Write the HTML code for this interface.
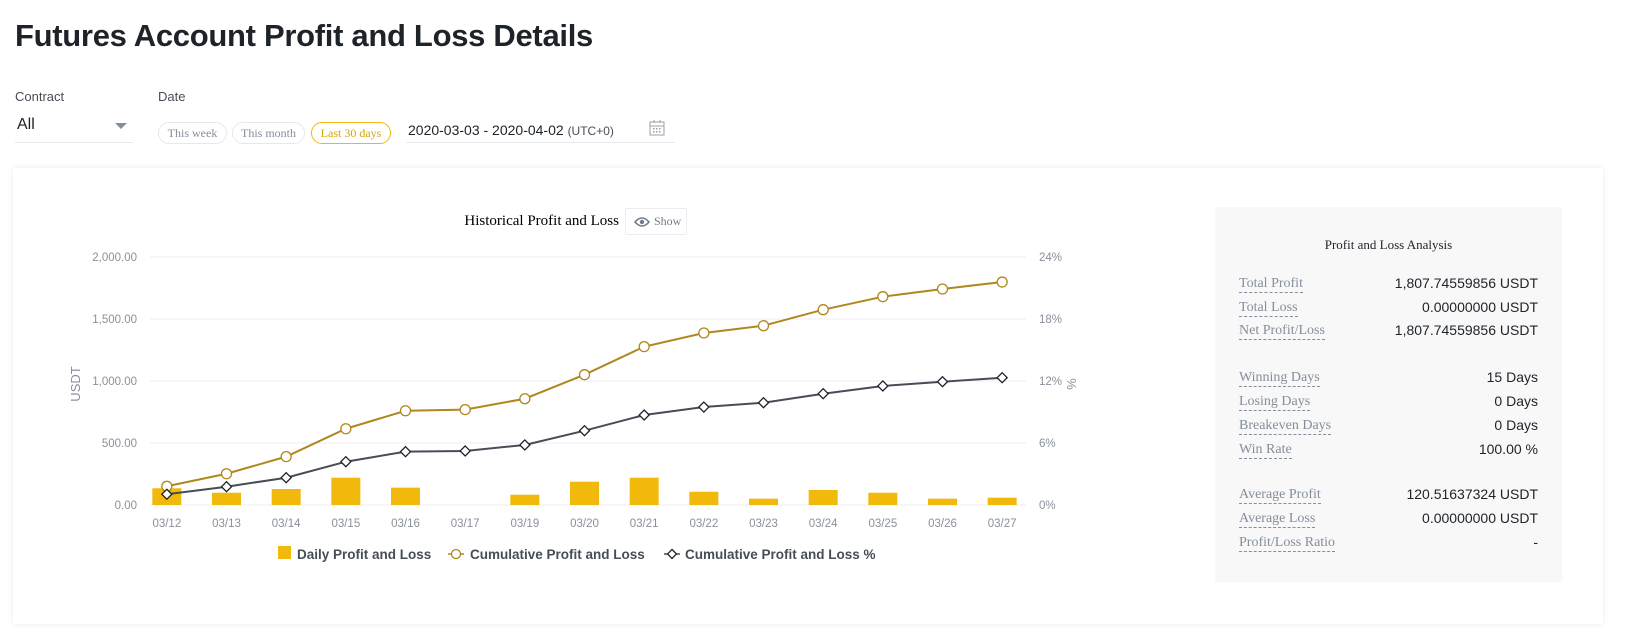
<!DOCTYPE html>
<html><head><meta charset="utf-8"><style>
*{margin:0;padding:0;box-sizing:border-box}
body{width:1627px;height:640px;background:#fff;font-family:"Liberation Sans",sans-serif;position:relative;overflow:hidden;color:#1e2329}
.abs{position:absolute}
h1{position:absolute;left:15px;top:18px;font-size:31px;font-weight:bold;letter-spacing:-0.3px}
.lbl{font-size:13px;color:#474d57}
.pill{position:absolute;top:122px;height:22px;border:1px solid #e6e8ea;border-radius:11px;font-family:"Liberation Serif",serif;font-size:12px;color:#848e9c;text-align:center;line-height:20px}
.card{position:absolute;left:13px;top:168px;width:1590px;height:456px;background:#fff;box-shadow:0 0 6px rgba(0,0,0,0.08)}
.panel{position:absolute;left:1215px;top:207px;width:347px;height:375px;background:#f8f8f8}
.row{position:absolute;left:24px;right:24px;height:20px;font-size:14px}
.row .k{position:absolute;left:0;font-family:"Liberation Serif",serif;color:#848e9c;border-bottom:1px dashed #848e9c;line-height:17px}
.row .v{position:absolute;right:0;color:#1e2329;line-height:17px}
</style></head><body>
<h1>Futures Account Profit and Loss Details</h1>
<div class="abs lbl" style="left:15px;top:89px">Contract</div>
<div class="abs lbl" style="left:158px;top:89px">Date</div>
<div class="abs" style="left:15px;top:114px;width:118px;height:29px;border-bottom:1px solid #e6e8ea">
 <span style="font-size:16px;position:absolute;left:2px;top:2px">All</span>
 <span style="position:absolute;right:6px;top:9px;width:0;height:0;border-left:6px solid transparent;border-right:6px solid transparent;border-top:6px solid #848e9c"></span>
</div>
<div class="pill" style="left:158px;width:69px">This week</div>
<div class="pill" style="left:232px;width:73px">This month</div>
<div class="pill" style="left:311px;width:80px;border-color:#f0b90b;color:#d9a50a">Last 30 days</div>
<div class="abs" style="left:406px;top:116px;width:269px;height:27px;border-bottom:1px solid #e6e8ea">
 <span style="position:absolute;left:2px;top:6px;font-size:14px">2020-03-03 - 2020-04-02 <span style="font-size:12px;color:#474d57">(UTC+0)</span></span>
 <svg style="position:absolute;right:10px;top:3px" width="16" height="18"><rect x="1" y="3" width="14" height="13" fill="none" stroke="#9aa0a8"/><line x1="1" y1="7" x2="15" y2="7" stroke="#9aa0a8"/><line x1="5" y1="1" x2="5" y2="4" stroke="#9aa0a8"/><line x1="11" y1="1" x2="11" y2="4" stroke="#9aa0a8"/><g fill="#9aa0a8"><rect x="4" y="9" width="1.5" height="1.5"/><rect x="7" y="9" width="1.5" height="1.5"/><rect x="10" y="9" width="1.5" height="1.5"/><rect x="4" y="12" width="1.5" height="1.5"/><rect x="7" y="12" width="1.5" height="1.5"/><rect x="10" y="12" width="1.5" height="1.5"/></g></svg>
</div>
<div class="card"></div>
<svg id="chart" class="abs" style="left:0;top:0" width="1150" height="640"></svg>
<div class="abs" style="left:625px;top:208px;width:62px;height:27px;border:1px solid #eaecef;border-radius:2px;font-family:'Liberation Serif',serif;font-size:12px;color:#707a8a;line-height:25px">
 <svg style="position:absolute;left:8px;top:7px" width="16" height="12"><path d="M1 6 Q8 -2 15 6 Q8 14 1 6Z" fill="none" stroke="#707a8a" stroke-width="1.6"/><circle cx="8" cy="6" r="2.2" fill="#707a8a"/></svg>
 <span style="position:absolute;left:28px">Show</span>
</div>
<div class="panel">
 <div style="position:absolute;left:0;right:0;top:30px;text-align:center;font-family:'Liberation Serif',serif;font-size:13px">Profit and Loss Analysis</div>
 <div class="row" style="top:68px"><span class="k">Total Profit</span><span class="v">1,807.74559856 USDT</span></div>
 <div class="row" style="top:92px"><span class="k">Total Loss</span><span class="v">0.00000000 USDT</span></div>
 <div class="row" style="top:115px"><span class="k">Net Profit/Loss</span><span class="v">1,807.74559856 USDT</span></div>
 <div class="row" style="top:162px"><span class="k">Winning Days</span><span class="v">15 Days</span></div>
 <div class="row" style="top:186px"><span class="k">Losing Days</span><span class="v">0 Days</span></div>
 <div class="row" style="top:210px"><span class="k">Breakeven Days</span><span class="v">0 Days</span></div>
 <div class="row" style="top:234px"><span class="k">Win Rate</span><span class="v">100.00 %</span></div>
 <div class="row" style="top:279px"><span class="k">Average Profit</span><span class="v">120.51637324 USDT</span></div>
 <div class="row" style="top:303px"><span class="k">Average Loss</span><span class="v">0.00000000 USDT</span></div>
 <div class="row" style="top:327px"><span class="k">Profit/Loss Ratio</span><span class="v">-</span></div>
</div>
<script>
const categories=["03/12","03/13","03/14","03/15","03/16","03/17","03/19","03/20","03/21","03/22","03/23","03/24","03/25","03/26","03/27"];
const dailyPnl=[135,99,129,220,140,0,83,188,220,107,51,121,99,51,59];
const cumulativePnl=[151,252,390,615,760,769,857,1051,1277,1387,1446,1575,1680,1742,1798];
const cumulativePct=[1.04,1.77,2.64,4.19,5.16,5.23,5.81,7.19,8.71,9.48,9.90,10.77,11.52,11.93,12.32];
const leftTicks=[0,500,1000,1500,2000];
const leftTickLabels=["0.00","500.00","1,000.00","1,500.00","2,000.00"];
const rightTicks=[0,6,12,18,24];
const rightTickLabels=["0%","6%","12%","18%","24%"];

const svg=document.getElementById('chart');
const NS='http://www.w3.org/2000/svg';
const X0=137,X1=1032,Y0=505,Y1=257;
const band=(X1-X0)/categories.length;
const x=i=>X0+band*(i+0.5);
const yL=v=>Y0-(v/2000)*(Y0-Y1);
const yR=v=>Y0-(v/24)*(Y0-Y1);
function mk(tag,attrs,text){const e=document.createElementNS(NS,tag);for(const k in attrs)e.setAttribute(k,attrs[k]);if(text!==undefined)e.textContent=text;svg.appendChild(e);return e;}
const tickFont='font-family:"Liberation Sans",sans-serif;font-size:11.5px;fill:#8a909a';
let t=mk('text',{x:619,y:225,'text-anchor':'end',style:'font-family:"Liberation Serif",serif;font-size:15px;fill:#000'},'Historical Profit and Loss');


leftTicks.forEach((v,i)=>{
 const g=mk('line',{x1:150,x2:1026,y1:yL(v),y2:yL(v),stroke:'#eceef0','stroke-width':1});
 
 
 const l=mk('text',{x:137,y:yL(v)+4,'text-anchor':'end',style:tickFont},leftTickLabels[i]);
 
 
});
rightTicks.forEach((v,i)=>{
 const l=mk('text',{x:1039,y:yR(v)+4,style:tickFont},rightTickLabels[i]);
 
 
});
let ya=mk('text',{x:0,y:0,transform:'translate(80,384) rotate(-90)','text-anchor':'middle',style:'font-family:"Liberation Sans",sans-serif;font-size:13px;fill:#8a909a'},'USDT');


let yb=mk('text',{x:0,y:0,transform:'translate(1067,384) rotate(90)','text-anchor':'middle',style:'font-family:"Liberation Sans",sans-serif;font-size:13px;fill:#8a909a'},'%');


categories.forEach((c,i)=>{
 const l=mk('text',{x:x(i),y:527,'text-anchor':'middle',style:tickFont},c);
 
 
 if(dailyPnl[i]>0){
  const b=mk('rect',{x:x(i)-14.5,y:yL(dailyPnl[i]),width:29,height:Y0-yL(dailyPnl[i]),fill:'#f0b90b'});
  
  
 }
});
let p1=mk('polyline',{points:cumulativePnl.map((v,i)=>x(i)+','+yL(v)).join(' '),fill:'none',stroke:'#b0871d','stroke-width':2});


let p2=mk('polyline',{points:cumulativePct.map((v,i)=>x(i)+','+yR(v)).join(' '),fill:'none',stroke:'#474d57','stroke-width':2});


cumulativePnl.forEach((v,i)=>{
 const c=mk('circle',{cx:x(i),cy:yL(v),r:5,fill:'#fff',stroke:'#b0871d','stroke-width':1.3});
 
 
});
cumulativePct.forEach((v,i)=>{
 const cx=x(i),cy=yR(v);
 const d=mk('polygon',{points:`${cx},${cy-5} ${cx+5},${cy} ${cx},${cy+5} ${cx-5},${cy}`,fill:'#fff',stroke:'#1e2329','stroke-width':1.3});
 
 
});
const lf='font-family:"Liberation Sans",sans-serif;font-size:13.5px;font-weight:bold;fill:#474d57';
let l1=mk('rect',{x:278,y:546,width:13,height:13,fill:'#f0b90b'});


let lt1=mk('text',{x:297,y:559,style:lf},'Daily Profit and Loss');


mk('line',{x1:448,x2:464,y1:554,y2:554,stroke:'#b0871d','stroke-width':1.5});
mk('circle',{cx:456,cy:554,r:4.5,fill:'#fff',stroke:'#b0871d','stroke-width':1.3});
let lt2=mk('text',{x:470,y:559,style:lf},'Cumulative Profit and Loss');


mk('line',{x1:664,x2:680,y1:554,y2:554,stroke:'#474d57','stroke-width':1.5});
mk('polygon',{points:'672,549.5 676.5,554 672,558.5 667.5,554',fill:'#fff',stroke:'#1e2329','stroke-width':1.3});
let lt3=mk('text',{x:685,y:559,style:lf},'Cumulative Profit and Loss %');


</script>
</body></html>
